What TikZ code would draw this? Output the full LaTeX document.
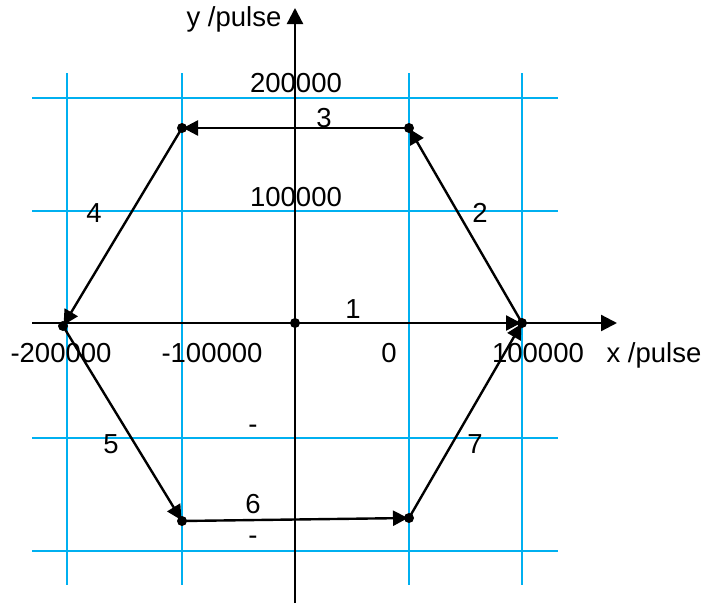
\documentclass[tikz,border=0pt]{standalone}
\usepackage{fontspec}
\setmainfont{Liberation Sans}
\usetikzlibrary{arrows.meta}
\definecolor{gridblue}{RGB}{0,176,240}
\begin{document}
\begin{tikzpicture}[x=1pt,y=-1pt,
  gridline/.style={gridblue,line width=2pt},
  axisline/.style={black,line width=2.3pt,-{Triangle[length=16pt,width=16pt]}},
  pathline/.style={black,line width=2.4pt,-{Triangle[length=15pt,width=15pt]},shorten >=1pt},
  lbl/.style={anchor=base,inner sep=0pt,font=\fontsize{27.5}{32}\selectfont},
  dotmark/.style={fill=black}]
\useasboundingbox (0,0) rectangle (705,605);
% grid
\foreach \x in {67,182,409,522} \draw[gridline] (\x,73) -- (\x,585);
\foreach \y in {98,211,438,551} \draw[gridline] (32,\y) -- (558,\y);
% axes
\coordinate (ybot) at (295,603);
\coordinate (ytop) at (295,8);
\coordinate (xl) at (32,323);
\coordinate (xr) at (617,323);
\draw[axisline] (ybot) -- (ytop);
\draw[axisline] (xl) -- (xr);
% points
\coordinate (P0) at (295,323);
\coordinate (P1) at (522,323);
\coordinate (P2) at (409,128);
\coordinate (P3) at (182,128);
\coordinate (P4) at (63,326);
\coordinate (P5) at (182,521);
\coordinate (P6) at (409,518);
\draw[pathline] (P0) -- (P1);
\draw[pathline] (P1) -- (P2);
\draw[pathline] (P2) -- (P3);
\draw[pathline] (P3) -- (P4);
\draw[pathline] (P4) -- (P5);
\draw[pathline] (P5) -- (P6);
\draw[pathline] (P6) -- (P1);
\foreach \p in {P0,P1,P2,P3,P4,P5,P6} \fill[dotmark] (\p) circle (5pt);
% labels
\node[lbl] (ylab) at (234,27) {y /pulse};
\node[lbl] (y200) at (296,92) {200000};
\node[lbl] (n3) at (324,127) {3};
\node[lbl] (y100) at (296,206) {100000};
\node[lbl] (n4) at (94,222) {4};
\node[lbl] (n2) at (480,222) {2};
\node[lbl] (n1) at (353,318) {1};
\node[lbl] (xm200) at (61,362) {-200000};
\node[lbl] (xm100) at (212,362) {-100000};
\node[lbl] (x0) at (389,362) {0};
\node[lbl] (x100) at (538,362) {100000};
\node[lbl] (xlab) at (654,362) {x /pulse};
\node[lbl] (m1) at (253,433) {-};
\node[lbl] (n5) at (111,453) {5};
\node[lbl] (n7) at (475,453) {7};
\node[lbl] (n6) at (253,513) {6};
\node[lbl] (m2) at (253,544) {-};
\end{tikzpicture}
\end{document}
